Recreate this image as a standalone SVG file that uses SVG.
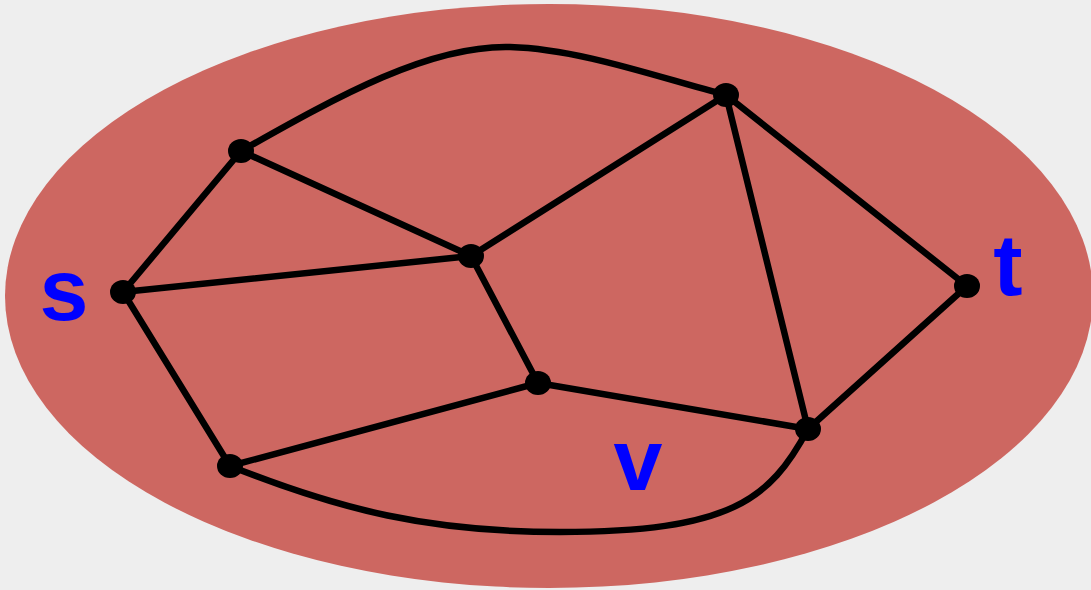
<svg xmlns="http://www.w3.org/2000/svg" width="1091" height="590" viewBox="0 0 1091 590">
<style>
.edge{fill:none;stroke:#000;stroke-width:6.5;stroke-linecap:round;stroke-linejoin:round}
.node{fill:#000}
.lbl{font-family:"Liberation Sans",Arial,sans-serif;font-weight:bold;font-size:88px;fill:#0000ff;text-anchor:middle}
</style>
<rect width="1091" height="590" fill="#eeeeee"/>
<ellipse cx="549" cy="296" rx="544" ry="292" fill="#cd6761"/>
<g id="connectors">
<line class="edge" x1="123" y1="292" x2="241" y2="151"/>
<line class="edge" x1="123" y1="292" x2="471" y2="256"/>
<line class="edge" x1="123" y1="292" x2="230" y2="466"/>
<line class="edge" x1="241" y1="151" x2="471" y2="256"/>
<path class="edge" d="M241,151 C340,95 430,45 510,47 C580,49 660,78 726,95"/>
<line class="edge" x1="471" y1="256" x2="726" y2="95"/>
<line class="edge" x1="726" y1="95" x2="967" y2="286"/>
<line class="edge" x1="726" y1="95" x2="808" y2="429"/>
<line class="edge" x1="471" y1="256" x2="538" y2="383"/>
<line class="edge" x1="538" y1="383" x2="808" y2="429"/>
<line class="edge" x1="538" y1="383" x2="230" y2="466"/>
<path class="edge" d="M230,466 C340,510 430,532 560,532 C730,532 770,500 808,429"/>
<line class="edge" x1="808" y1="429" x2="967" y2="286"/>
</g>
<g id="node-s"><ellipse class="node" cx="123" cy="292" rx="13" ry="12"/><text class="lbl" x="64" y="320">s</text></g>
<g id="node-a"><ellipse class="node" cx="241" cy="151" rx="13" ry="12"/></g>
<g id="node-b"><ellipse class="node" cx="726" cy="95" rx="13" ry="12"/></g>
<g id="node-c"><ellipse class="node" cx="471" cy="256" rx="13" ry="12"/></g>
<g id="node-t"><ellipse class="node" cx="967" cy="286" rx="13" ry="12"/><text class="lbl" x="1008" y="295">t</text></g>
<g id="node-d"><ellipse class="node" cx="538" cy="383" rx="13" ry="12"/></g>
<g id="node-e"><ellipse class="node" cx="808" cy="429" rx="13" ry="12"/></g>
<g id="node-f"><ellipse class="node" cx="230" cy="466" rx="13" ry="12"/></g>
<g id="label-v"><text class="lbl" x="638" y="490">v</text></g>
</svg>
